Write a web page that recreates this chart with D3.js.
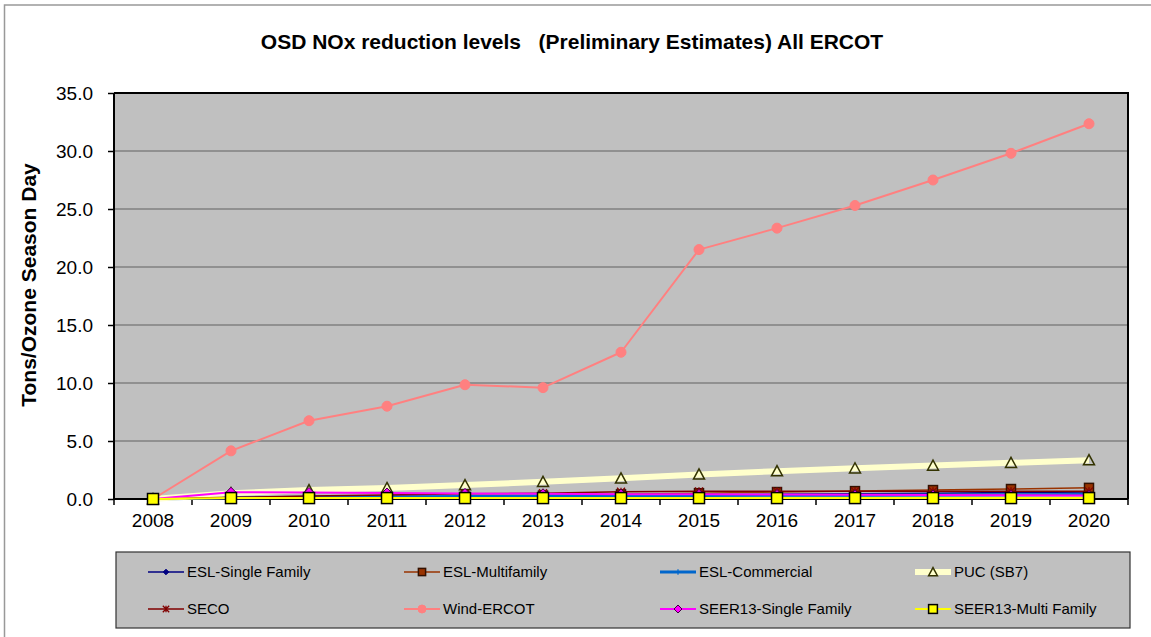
<!DOCTYPE html>
<html><head><meta charset="utf-8">
<script src="https://cdn.jsdelivr.net/npm/d3@7"></script>
<style>body{margin:0;background:#fff;}svg{display:block;font-family:"Liberation Sans",Arial,sans-serif;}</style>
</head><body>
<svg id="chart" width="1151" height="637"></svg>
<script>
const years = ["2008","2009","2010","2011","2012","2013","2014","2015","2016","2017","2018","2019","2020"];
const yTicks = [0,5,10,15,20,25,30,35];
const eslSingleFamily = [0,0.05,0.1,0.15,0.2,0.25,0.3,0.35,0.4,0.45,0.5,0.55,0.6];
const eslMultifamily = [0,0.05,0.1,0.15,0.2,0.3,0.4,0.5,0.6,0.68,0.77,0.86,0.96];
const eslCommercial = [0,0.1,0.15,0.2,0.22,0.25,0.28,0.3,0.32,0.33,0.35,0.36,0.38];
const pucSB7 = [0,0.5,0.77,0.95,1.2,1.48,1.78,2.12,2.4,2.65,2.88,3.12,3.35];
const seco = [0,0.15,0.25,0.35,0.45,0.5,0.62,0.66,0.66,0.66,0.66,0.66,0.66];
const windERCOT = [0,4.15,6.75,8.0,9.85,9.6,12.65,21.5,23.35,25.3,27.5,29.8,32.35];
const seer13Single = [0,0.58,0.56,0.52,0.48,0.45,0.42,0.4,0.38,0.36,0.34,0.32,0.3];
const seer13Multi = [0,0.08,0.08,0.08,0.08,0.08,0.08,0.08,0.08,0.08,0.08,0.08,0.08];

const series = [
  {name:"ESL-Single Family", values:eslSingleFamily, color:"#000080", width:1.5, marker:"diamond", mfill:"#000080", mstroke:"#000080", msize:7},
  {name:"ESL-Multifamily", values:eslMultifamily, color:"#993300", width:1.5, marker:"square", mfill:"#993300", mstroke:"#331100", msize:9},
  {name:"ESL-Commercial", values:eslCommercial, color:"#0066cc", width:3, marker:"plus", mfill:"none", mstroke:"#0066cc", msize:7},
  {name:"PUC (SB7)", values:pucSB7, color:"#ffffcc", width:6, marker:"triangle", mfill:"none", mstroke:"#333300", msize:11},
  {name:"SECO", values:seco, color:"#800000", width:1.5, marker:"asterisk", mfill:"none", mstroke:"#800000", msize:8},
  {name:"Wind-ERCOT", values:windERCOT, color:"#ff8080", width:2, marker:"circle", mfill:"#ff8080", mstroke:"#ff8080", msize:10},
  {name:"SEER13-Single Family", values:seer13Single, color:"#ff00ff", width:2, marker:"diamond", mfill:"#ff00ff", mstroke:"#400040", msize:10},
  {name:"SEER13-Multi Family", values:seer13Multi, color:"#ffff00", width:2, marker:"square", mfill:"#ffff00", mstroke:"#000000", msize:11}
];

const svg = d3.select("#chart");
// outer frame
svg.append("rect").attr("x",4.5).attr("y",5).attr("width",1160).attr("height",650)
  .attr("fill","#fff").attr("stroke","#999").attr("stroke-width",1.5);

const L=114, R=1128, T=93, B=499;
const x = d3.scaleBand().domain(years).range([L,R]);
const y = d3.scaleLinear().domain([0,35]).range([B,T]);

svg.append("rect").attr("x",L).attr("y",T).attr("width",R-L).attr("height",B-T).attr("fill","#c0c0c0");
// grid
svg.append("g").selectAll("line").data(yTicks.slice(1,-1)).join("line")
  .attr("x1",L).attr("x2",R).attr("y1",d=>y(d)).attr("y2",d=>y(d))
  .attr("stroke","#808080").attr("stroke-width",1.5);
// top/right border
svg.append("path").attr("d",`M${L},${T}H${R}V${B}`).attr("fill","none").attr("stroke","#000").attr("stroke-width",2);

// y axis
const yAxis = svg.append("g").attr("transform",`translate(${L},0)`)
  .call(d3.axisLeft(y).tickValues(yTicks).tickFormat(d3.format(".1f")).tickSize(6).tickPadding(15));
yAxis.select(".domain").attr("stroke","#000").attr("stroke-width",2).attr("d",`M0,${B+1}V${T}`);
yAxis.selectAll(".tick line").attr("stroke","#000").attr("stroke-width",1.5);
yAxis.selectAll(".tick text").attr("font-size",19).attr("fill","#000").attr("font-family","Liberation Sans, Arial, sans-serif");

// x axis
const xAxis = svg.append("g").attr("transform",`translate(0,${B})`)
  .call(d3.axisBottom(x).tickSize(0).tickPadding(15));
xAxis.select(".domain").attr("stroke","#000").attr("stroke-width",2).attr("d",`M${L},0H${R}`);
xAxis.selectAll(".tick text").attr("font-size",19).attr("fill","#000").attr("font-family","Liberation Sans, Arial, sans-serif");
const bounds = years.map(d=>x(d)).concat([R]);
svg.append("g").selectAll("line").data(bounds).join("line")
  .attr("x1",d=>d).attr("x2",d=>d).attr("y1",B).attr("y2",B+6)
  .attr("stroke","#000").attr("stroke-width",1.5);

// title
svg.append("text").attr("x",572).attr("y",49).attr("text-anchor","middle")
  .attr("font-size",21).attr("font-weight","bold").attr("xml:space","preserve")
  .text("OSD NOx reduction levels   (Preliminary Estimates) All ERCOT");
// y label
svg.append("text").attr("transform",`translate(36,${(T+B)/2-11}) rotate(-90)`)
  .attr("text-anchor","middle").attr("font-size",21).attr("font-weight","bold")
  .text("Tons/Ozone Season Day");

function drawMarker(g, s, cx, cy, scale) {
  const m = s.msize*(scale||1), h = m/2;
  if (s.marker==="diamond") {
    g.append("path").attr("d",`M${cx},${cy-h}L${cx+h},${cy}L${cx},${cy+h}L${cx-h},${cy}Z`)
      .attr("fill",s.mfill).attr("stroke",s.mstroke).attr("stroke-width",1);
  } else if (s.marker==="square") {
    g.append("rect").attr("x",cx-h).attr("y",cy-h).attr("width",m).attr("height",m)
      .attr("fill",s.mfill).attr("stroke",s.mstroke).attr("stroke-width",1.5);
  } else if (s.marker==="plus") {
    g.append("path").attr("d",`M${cx-h},${cy}H${cx+h}M${cx},${cy-h}V${cy+h}`)
      .attr("stroke",s.mstroke).attr("stroke-width",1.2);
  } else if (s.marker==="triangle") {
    g.append("path").attr("d",`M${cx},${cy-h}L${cx+h},${cy+h*0.85}L${cx-h},${cy+h*0.85}Z`)
      .attr("fill",s.mfill).attr("stroke",s.mstroke).attr("stroke-width",1.5);
  } else if (s.marker==="asterisk") {
    g.append("path").attr("d",`M${cx-h},${cy-h}L${cx+h},${cy+h}M${cx+h},${cy-h}L${cx-h},${cy+h}M${cx},${cy-h}V${cy+h}`)
      .attr("stroke",s.mstroke).attr("stroke-width",1.3);
  } else if (s.marker==="circle") {
    g.append("circle").attr("cx",cx).attr("cy",cy).attr("r",h)
      .attr("fill",s.mfill).attr("stroke",s.mstroke);
  }
}

const line = d3.line().x((d,i)=>x(years[i])+x.bandwidth()/2).y(d=>y(d));
series.forEach(s=>{
  const g = svg.append("g");
  g.append("path").datum(s.values).attr("d",line).attr("fill","none")
    .attr("stroke",s.color).attr("stroke-width",s.width).attr("stroke-linejoin","round");
  s.values.forEach((v,i)=>drawMarker(g,s,x(years[i])+x.bandwidth()/2,y(v)));
});

// legend
svg.append("rect").attr("x",116).attr("y",552).attr("width",1014).attr("height",76)
  .attr("fill","#c0c0c0").attr("stroke","#333").attr("stroke-width",1.2);
const colX = [148,404,660,915];
const rowY = [572,609];
series.forEach((s,i)=>{
  const cx = colX[i%4], cy = rowY[Math.floor(i/4)];
  const g = svg.append("g");
  g.append("line").attr("x1",cx).attr("x2",cx+36).attr("y1",cy).attr("y2",cy)
    .attr("stroke",s.color).attr("stroke-width",s.width);
  drawMarker(g,s,cx+18,cy,0.8);
  g.append("text").attr("x",cx+39).attr("y",cy+5).attr("font-size",15).attr("fill","#000").text(s.name);
});
</script>
</body></html>
